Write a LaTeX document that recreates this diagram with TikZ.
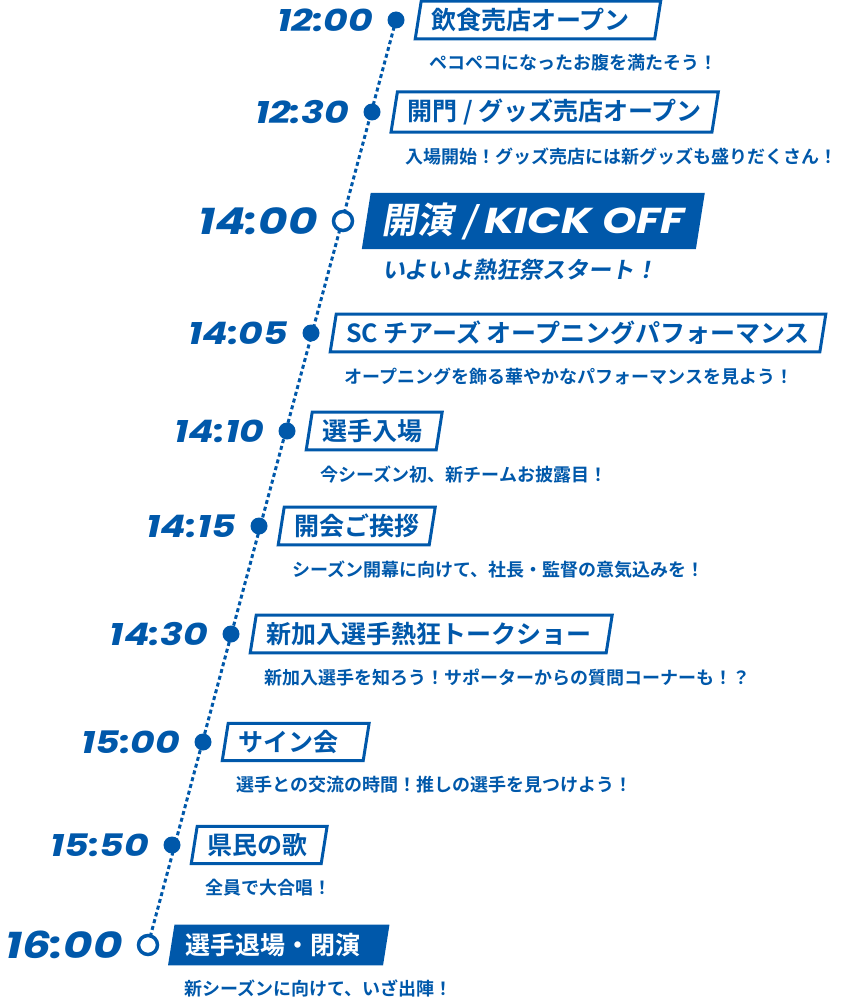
\documentclass[tikz,border=0pt]{standalone}
\usepackage{fontspec}
\newfontfamily\jpfont{Noto Sans CJK JP Bold}
\newfontfamily\jpslant{Noto Sans CJK JP Bold}[FakeSlant=0.18]
\newfontfamily\timefont{Poppins}[FakeStretch=1.22]
\usetikzlibrary{positioning}
\usetikzlibrary{shapes.geometric}
\usetikzlibrary{backgrounds}
\definecolor{fesblue}{RGB}{0,88,170}
\tikzset{
    eventdot/.style  = {circle, fill=fesblue, minimum size=17pt, inner sep=0pt},
    eventring/.style = {circle, draw=fesblue, line width=3.5pt, fill=white,
                        minimum size=19pt, inner sep=0pt},
    timelabel/.style = {text=fesblue, inner sep=0pt,
                        font=\timefont\bfseries\itshape\fontsize{31}{31}\selectfont},
    bigtime/.style   = {timelabel, font=\timefont\bfseries\itshape\fontsize{37}{37}\selectfont},
    eventbox/.style  = {
                        trapezium, trapezium left angle=81, trapezium right angle=99,
                        draw=fesblue, line width=3pt, fill=white, text=fesblue,
                        inner xsep=10pt, inner ysep=7pt,
                        font=\jpfont\fontsize{25}{25}\selectfont
                       },
    keybox/.style    = {eventbox, fill=fesblue, text=white, draw=fesblue},
    eventsub/.style  = {text=fesblue, inner sep=0pt, anchor=north west,
                        font=\jpfont\fontsize{18}{18}\selectfont},
    keysub/.style    = {eventsub, font=\jpslant\fontsize{23}{23}\selectfont},
    timeline/.style  = {draw=fesblue, line width=3pt, dash pattern=on 4pt off 3pt}
}

\begin{document}
\begin{tikzpicture}[x=1pt, y=-1pt, node distance=14pt]
    \useasboundingbox (0,0) rectangle (842,1006);

    % stops along the line
    \node (d1)  [eventdot]  at (396,20)  {};
    \node (d2)  [eventdot]  at (372,112) {};
    \node (d3)  [eventring] at (343,221) {};
    \node (d4)  [eventdot]  at (311,333) {};
    \node (d5)  [eventdot]  at (287,431) {};
    \node (d6)  [eventdot]  at (259,526) {};
    \node (d7)  [eventdot]  at (231,634) {};
    \node (d8)  [eventdot]  at (203,742) {};
    \node (d9)  [eventdot]  at (172,845) {};
    \node (d10) [eventring] at (148,945) {};

    \begin{scope}[on background layer]
        \draw[timeline] (d1.center) -- (d10.center);
    \end{scope}

    % times
    \node (t1)  [timelabel, left=of d1]  {12:00};
    \node (t2)  [timelabel, left=of d2]  {12:30};
    \node (t3)  [bigtime,   left=of d3]  {14:00};
    \node (t4)  [timelabel, left=of d4]  {14:05};
    \node (t5)  [timelabel, left=of d5]  {14:10};
    \node (t6)  [timelabel, left=of d6]  {14:15};
    \node (t7)  [timelabel, left=of d7]  {14:30};
    \node (t8)  [timelabel, left=of d8]  {15:00};
    \node (t9)  [timelabel, left=of d9]  {15:50};
    \node (t10) [bigtime,   left=of d10] {16:00};

    % titles
    \node (b1)  [eventbox, right=12pt of d1]  {飲食売店オープン\hspace*{15pt}};
    \node (b2)  [eventbox, right=12pt of d2]  {開門 / グッズ売店オープン};
    \node (b3)  [keybox, right=12pt of d3, inner ysep=8pt]
                {\jpslant\fontsize{36}{36}\selectfont 開演 / {\timefont\bfseries\itshape KICK OFF}};
    \node (b4)  [eventbox, right=12pt of d4]  {SC チアーズ オープニングパフォーマンス};
    \node (b5)  [eventbox, right=12pt of d5]  {選手入場\hspace*{4pt}};
    \node (b6)  [eventbox, right=12pt of d6]  {開会ご挨拶};
    \node (b7)  [eventbox, right=12pt of d7]  {新加入選手熱狂トークショー\hspace*{5pt}};
    \node (b8)  [eventbox, right=12pt of d8]  {サイン会\hspace*{15pt}};
    \node (b9)  [eventbox, right=12pt of d9]  {県民の歌\hspace*{4pt}};
    \node (b10) [keybox, right=12pt of d10]   {選手退場・閉演\hspace*{11pt}};

    % descriptions
    \node (s1)  [eventsub, below right=14pt and 16pt of b1.bottom left corner]  {ペコペコになったお腹を満たそう！};
    \node (s2)  [eventsub, below right=14pt and 16pt of b2.bottom left corner]  {入場開始！グッズ売店には新グッズも盛りだくさん！};
    \node (s3)  [keysub,   below right=10pt and 20pt of b3.bottom left corner]  {いよいよ熱狂祭スタート！};
    \node (s4)  [eventsub, below right=14pt and 16pt of b4.bottom left corner]  {オープニングを飾る華やかなパフォーマンスを見よう！};
    \node (s5)  [eventsub, below right=14pt and 16pt of b5.bottom left corner]  {今シーズン初、新チームお披露目！};
    \node (s6)  [eventsub, below right=14pt and 16pt of b6.bottom left corner]  {シーズン開幕に向けて、社長・監督の意気込みを！};
    \node (s7)  [eventsub, below right=14pt and 16pt of b7.bottom left corner]  {新加入選手を知ろう！サポーターからの質問コーナーも！？};
    \node (s8)  [eventsub, below right=14pt and 16pt of b8.bottom left corner]  {選手との交流の時間！推しの選手を見つけよう！};
    \node (s9)  [eventsub, below right=14pt and 16pt of b9.bottom left corner]  {全員で大合唱！};
    \node (s10) [eventsub, below right=14pt and 16pt of b10.bottom left corner] {新シーズンに向けて、いざ出陣！};
\end{tikzpicture}
\end{document}
